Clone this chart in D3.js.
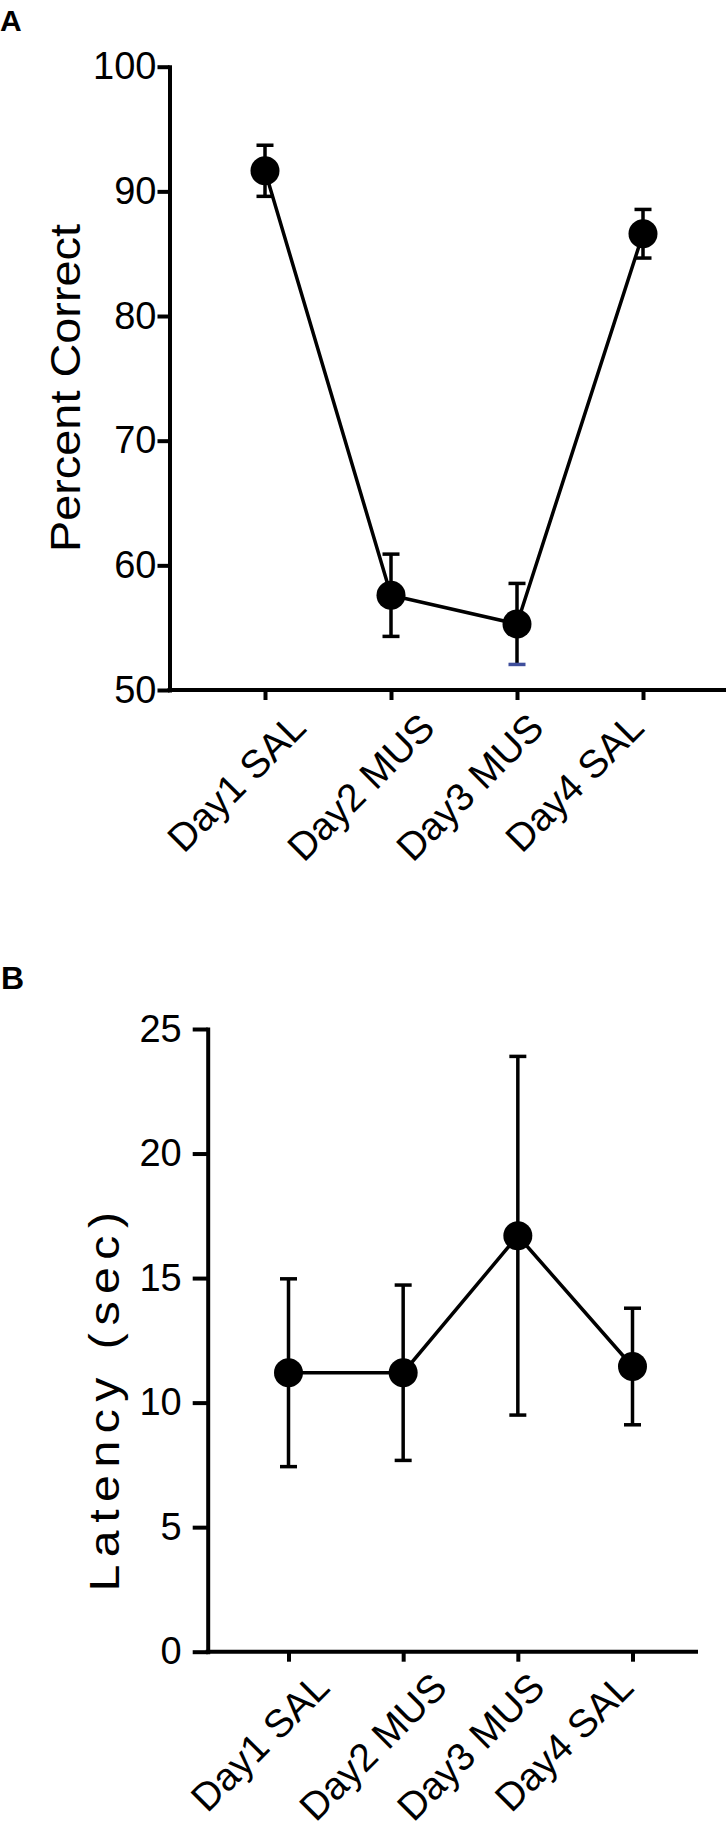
<!DOCTYPE html>
<html>
<head>
<meta charset="utf-8">
<script src="https://cdn.jsdelivr.net/npm/d3@7"></script>
<style>
  html, body { margin: 0; padding: 0; background: #fff; }
  svg { display: block; }
  text { font-family: "Liberation Sans", Arial, Helvetica, sans-serif; fill: #000; }
</style>
</head>
<body>
<div id="chart"></div>
<script>
// ---------- data ----------
const categories = ["Day1 SAL", "Day2 MUS", "Day3 MUS", "Day4 SAL"];

// Panel A: Percent Correct (mean ± SEM)
const pctMean = [91.65, 57.6, 55.3, 86.6];
const pctErr  = [2.05, 3.3, 3.25, 1.95];
const pctTicks = [50, 60, 70, 80, 90, 100];

// Panel B: Latency (sec) (mean ± SEM)
const latMean = [11.2, 11.2, 16.7, 11.45];
const latErr  = [3.77, 3.52, 7.2, 2.34];
const latTicks = [0, 5, 10, 15, 20, 25];

// ---------- layout ----------
const W = 726, H = 1828;
const svg = d3.select("#chart").append("svg").attr("width", W).attr("height", H);

const AXIS_W = 4, LINE_W = 3.5, ERR_W = 3.5, CAP_HALF = 8.5, DOT_R = 14.5;
const labelNudge = [43, 46, 29, 3];

function panel(cfg) {
  const g = svg.append("g");
  const y = d3.scaleLinear().domain(cfg.domain).range(cfg.yRange);
  const x = d3.scalePoint().domain(categories).range(cfg.xRange);
  const y0 = y(cfg.domain[0]);

  // y axis
  const gy = g.append("g")
    .attr("transform", `translate(${cfg.axisX},0)`)
    .call(d3.axisLeft(y).tickValues(cfg.ticks).tickSize(cfg.tickLen)
      .tickSizeOuter(0).tickPadding(cfg.tickPad).tickFormat(d3.format("d")));
  gy.select(".domain").attr("stroke", "#000").attr("stroke-width", AXIS_W)
    .attr("stroke-linecap", "square");
  gy.selectAll(".tick line").attr("stroke", "#000").attr("stroke-width", AXIS_W);
  gy.selectAll(".tick text").attr("font-size", 38).attr("fill", "#000")
    .attr("font-family", '"Liberation Sans", Arial, sans-serif');

  // x axis
  const gx = g.append("g")
    .attr("transform", `translate(0,${y0})`)
    .call(d3.axisBottom(x).tickSize(10).tickFormat(""));
  gx.select(".domain").remove();
  gx.selectAll(".tick line").attr("stroke", "#000").attr("stroke-width", AXIS_W);
  g.append("line")
    .attr("x1", cfg.axisX - AXIS_W / 2).attr("x2", cfg.xAxisEnd)
    .attr("y1", y0).attr("y2", y0)
    .attr("stroke", "#000").attr("stroke-width", AXIS_W);

  // x tick labels (rotated)
  g.selectAll("text.xl").data(categories).join("text")
    .attr("class", "xl")
    .attr("transform", (d, i) => `translate(${x(d) + labelNudge[i]},${y0 + cfg.labelOff}) rotate(-45)`)
    .attr("text-anchor", "end")
    .attr("font-size", 39)
    .text(d => d);

  // y title
  g.append("text")
    .attr("transform", `translate(${cfg.titleX},${cfg.titleY}) rotate(-90) scale(${cfg.titleStretch},1)`)
    .attr("text-anchor", "middle")
    .attr("font-size", cfg.titleSize)
    .attr("letter-spacing", cfg.titleLs)
    .text(cfg.title);

  // panel letter
  g.append("text")
    .attr("x", cfg.letterX).attr("y", cfg.letterY)
    .attr("font-size", cfg.letterSize).attr("font-weight", "bold")
    .text(cfg.letter);

  const pts = categories.map((c, i) => ({ c, m: cfg.mean[i], e: cfg.err[i], i }));

  // connecting line
  g.append("path")
    .datum(pts)
    .attr("fill", "none").attr("stroke", "#000").attr("stroke-width", LINE_W)
    .attr("d", d3.line().x(d => x(d.c)).y(d => y(d.m)));

  // error bars
  const eb = g.selectAll("g.eb").data(pts).join("g").attr("class", "eb");
  eb.append("line")
    .attr("x1", d => x(d.c)).attr("x2", d => x(d.c))
    .attr("y1", d => y(d.m + d.e)).attr("y2", d => y(d.m - d.e))
    .attr("stroke", "#000").attr("stroke-width", ERR_W);
  eb.append("line")
    .attr("x1", d => x(d.c) - CAP_HALF).attr("x2", d => x(d.c) + CAP_HALF)
    .attr("y1", d => y(d.m + d.e)).attr("y2", d => y(d.m + d.e))
    .attr("stroke", "#000").attr("stroke-width", ERR_W);
  eb.append("line")
    .attr("x1", d => x(d.c) - CAP_HALF).attr("x2", d => x(d.c) + CAP_HALF)
    .attr("y1", d => y(d.m - d.e)).attr("y2", d => y(d.m - d.e))
    .attr("stroke", d => (cfg.blueLowCap === d.i ? "#3f4f9c" : "#000"))
    .attr("stroke-width", ERR_W);

  // dots
  g.selectAll("circle.dot").data(pts).join("circle")
    .attr("class", "dot")
    .attr("cx", d => x(d.c)).attr("cy", d => y(d.m))
    .attr("r", DOT_R).attr("fill", "#000");
}

panel({
  letter: "A", letterX: 0, letterY: 31, letterSize: 30,
  domain: [50, 100], yRange: [690, 66.7], xRange: [265, 643],
  axisX: 169.5, xAxisEnd: 726, ticks: pctTicks, tickLen: 12, tickPad: 1,
  labelOff: 40,
  title: "Percent Correct", titleX: 79.5, titleY: 388, titleSize: 43, titleLs: 0, titleStretch: 1.09,
  mean: pctMean, err: pctErr, blueLowCap: 2
});

panel({
  letter: "B", letterX: 1, letterY: 989, letterSize: 32,
  domain: [0, 25], yRange: [1651.7, 1029], xRange: [288.5, 632.5],
  axisX: 207.7, xAxisEnd: 698, ticks: latTicks, tickLen: 15, tickPad: 11,
  labelOff: 38,
  title: "Latency (sec)", titleX: 119, titleY: 1398, titleSize: 42, titleLs: 6.5, titleStretch: 1.15,
  mean: latMean, err: latErr, blueLowCap: -1
});
</script>
</body>
</html>
